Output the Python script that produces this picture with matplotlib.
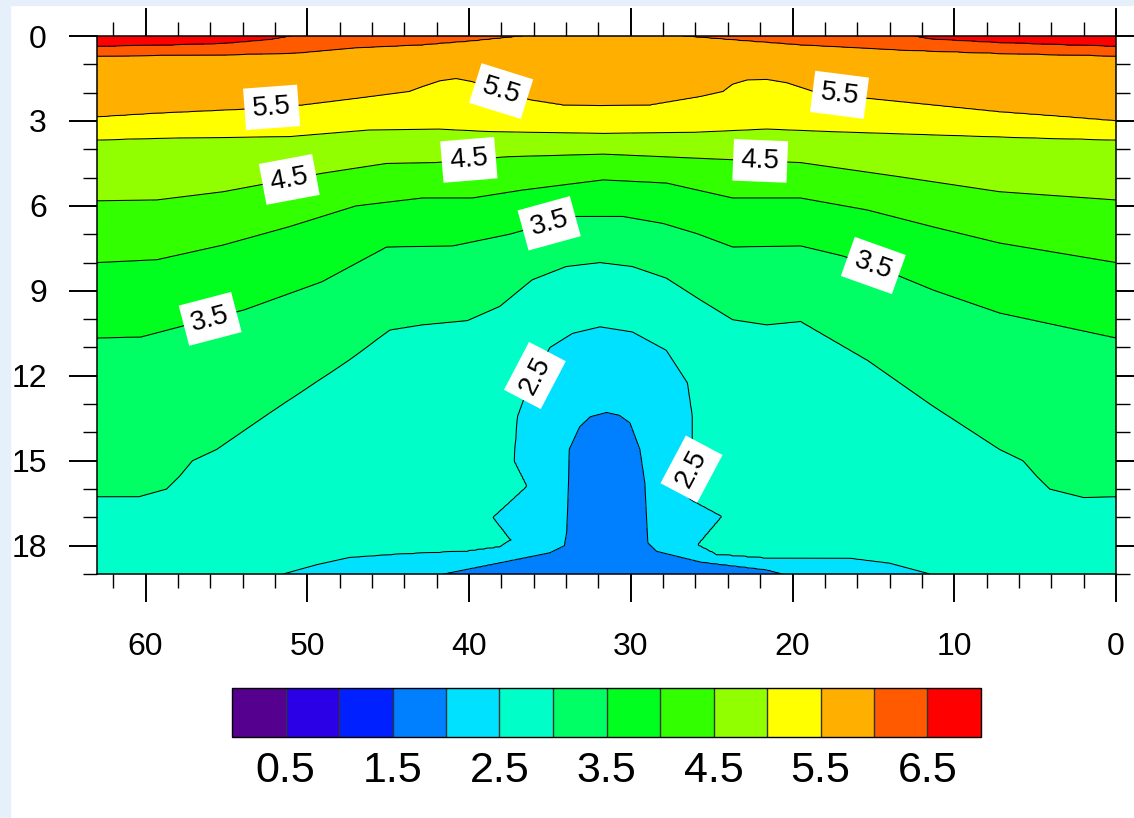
import numpy as np
import matplotlib
matplotlib.use("Agg")
import matplotlib.pyplot as plt
from matplotlib.path import Path
from matplotlib.patches import Rectangle
from matplotlib.ticker import MultipleLocator, FixedLocator

plt.rcParams['font.family'] = ['Liberation Sans', 'DejaVu Sans']

# ---------------- data: contour lines (x, depth) ----------------
c65a_x = [63.0, 59.0, 55.2, 52.3, 51.0]
c65a_d = [0.37, 0.33, 0.27, 0.13, 0.0]
c65b_x = [12.5, 11.5, 7.2, 3.0, 0.0]
c65b_d = [0.0, 0.11, 0.24, 0.32, 0.37]

c60a_x = [63.0, 55.2, 50.7, 47.0, 42.9, 39.8, 36.7]
c60a_d = [0.70, 0.66, 0.60, 0.42, 0.32, 0.18, 0.0]
c60b_x = [26.8, 23.7, 19.5, 13.4, 7.2, 0.0]
c60b_d = [0.0, 0.14, 0.32, 0.49, 0.61, 0.70]

c55_x = [63.0, 59.3, 53.6, 50.3, 46.9, 43.7, 42.9, 41.8, 40.8, 39.8, 38.0, 36.2, 34.2,
         31.9, 28.8, 25.7, 24.3, 23.7, 22.8, 21.6, 20.35, 18.7, 15.4, 11.3, 7.2, 3.0, 0.0]
c55_d = [2.86, 2.73, 2.58, 2.44, 2.20, 1.96, 1.79, 1.58, 1.50, 1.61, 1.95, 2.26, 2.44,
         2.47, 2.44, 2.14, 1.96, 1.70, 1.55, 1.53, 1.65, 1.96, 2.20, 2.44, 2.68, 2.86, 3.0]

c50_x = [63.0, 59.3, 51.1, 46.2, 41.9, 38.7, 31.7, 26.0, 21.6, 17.5, 11.3, 5.0, 0.0]
c50_d = [3.67, 3.61, 3.55, 3.32, 3.29, 3.38, 3.44, 3.40, 3.29, 3.38, 3.49, 3.60, 3.67]

c45_x = [63.0, 59.3, 55.2, 49.1, 45.1, 42.1, 37.6, 31.7, 25.7, 19.5, 13.4, 7.2, 0.0]
c45_d = [5.82, 5.79, 5.50, 4.85, 4.50, 4.47, 4.26, 4.17, 4.32, 4.47, 4.97, 5.50, 5.79]

c40_x = [63.0, 59.3, 55.2, 51.1, 47.0, 42.9, 39.8, 36.7, 31.7, 27.8, 23.7, 19.5, 15.4,
         11.3, 7.2, 0.0]
c40_d = [8.00, 7.90, 7.38, 6.73, 6.00, 5.72, 5.72, 5.44, 5.08, 5.19, 5.72, 5.72, 6.14,
         6.74, 7.31, 8.00]

c35_x = [63.0, 60.3, 53.9, 49.1, 45.1, 41.0, 37.5, 33.5, 30.5, 28.0, 25.9, 23.7, 19.5,
         17.0, 15.0, 11.3, 7.2, 0.0]
c35_d = [10.66, 10.63, 9.67, 8.68, 7.45, 7.41, 7.00, 6.37, 6.37, 6.62, 6.98, 7.45, 7.41,
         7.75, 8.10, 8.97, 9.78, 10.66]

c30_x = [63.0, 60.4, 58.7, 57.9, 57.1, 55.6, 52.3, 47.4, 44.9, 42.9, 40.1, 38.1, 36.1,
         34.0, 31.9, 29.9, 27.8, 25.7, 23.7, 21.6, 19.5, 15.4, 11.5, 7.2, 5.75, 4.9, 4.1,
         2.0, 0.0]
c30_d = [16.27, 16.27, 16.0, 15.55, 15.0, 14.6, 13.3, 11.44, 10.38, 10.2, 10.05, 9.55, 8.61,
         8.14, 8.0, 8.14, 8.55, 9.32, 10.02, 10.2, 10.08, 11.44, 13.0, 14.6, 15.0, 15.55, 16.0,
         16.3, 16.27]

c25_x = [51.5, 49.4, 47.4, 44.3, 40.1, 38.1, 37.4, 38.5, 36.4, 37.2, 37.0, 36.4, 35.0,
         33.6, 31.9, 29.9, 27.8, 26.5, 26.2, 26.2, 26.3, 26.4, 24.4, 25.9, 24.7, 21.6,
         16.45, 14.0, 11.5]
c25_d = [19.0, 18.67, 18.42, 18.3, 18.2, 18.05, 17.8, 17.0, 15.9, 15.0, 13.45, 12.5, 11.0,
         10.5, 10.27, 10.45, 11.1, 12.25, 13.45, 14.5, 15.6, 16.35, 16.97, 17.97, 18.32, 18.45,
         18.45, 18.62, 19.0]

c20_x = [41.6, 38.1, 35.0, 34.1, 33.95, 33.85, 33.8, 33.15, 32.5, 31.5, 30.7, 30.06,
         29.44, 29.13, 28.95, 28.4, 25.7, 21.6, 20.6]
c20_d = [19.0, 18.6, 18.25, 18.0, 17.5, 15.8, 14.6, 13.8, 13.45, 13.3, 13.4, 13.66,
         14.6, 15.8, 17.9, 18.2, 18.57, 18.85, 19.0]

line_levels = [2.0, 2.5, 3.0, 3.5, 4.0, 4.5, 5.0, 5.5, 6.0, 6.5]
label_levels = [2.5, 3.5, 4.5, 5.5]
fill_levels = [-1.0, 0.5, 1.0, 1.5, 2.0, 2.5, 3.0, 3.5, 4.0, 4.5, 5.0, 5.5, 6.0, 6.5, 10.0]
colors = ['#55008f', '#2c00e6', '#0020ff', '#0080ff', '#00e0ff', '#00ffc8', '#00ff64',
          '#00ff1e', '#32ff00', '#91ff00', '#ffff00', '#ffaf00', '#ff5a00', '#ff0000']
cbar_ticks = [0.5, 1.5, 2.5, 3.5, 4.5, 5.5, 6.5]
x_ticks = [0, 10, 20, 30, 40, 50, 60]
y_ticks = [0, 3, 6, 9, 12, 15, 18]

lines = {
    2.0: ('dome', [(c20_x, c20_d)]),
    2.5: ('dome', [(c25_x, c25_d)]),
    3.0: ('top', [(c30_x, c30_d)]),
    3.5: ('top', [(c35_x, c35_d)]),
    4.0: ('top', [(c40_x, c40_d)]),
    4.5: ('top', [(c45_x, c45_d)]),
    5.0: ('top', [(c50_x, c50_d)]),
    5.5: ('top', [(c55_x, c55_d)]),
    6.0: ('top', [(c60a_x, c60a_d), (c60b_x, c60b_d)]),
    6.5: ('top', [(c65a_x, c65a_d), (c65b_x, c65b_d)]),
}

# ---------------- build gridded field whose contours follow the lines ----------------
XMAX, DMAX = 63.0, 19.0
xg = np.linspace(0, XMAX, 631)
dg = np.linspace(0, DMAX, 476)
X, D = np.meshgrid(xg, dg)
P = np.column_stack([X.ravel(), D.ravel()])
SX, SY = 16.17, 28.33
PX, PY = P[:, 0] * SX, P[:, 1] * SY


def extend(xs, ds):
    pts = list(zip(xs, ds))

    def ext(p):
        x, d = p
        if abs(x - XMAX) < 1e-6:
            return (XMAX + 2, d)
        if abs(x) < 1e-6:
            return (-2.0, d)
        if abs(d) < 1e-6:
            return (x, -2.0)
        if abs(d - DMAX) < 1e-6:
            return (x, DMAX + 2)
        return p
    return [ext(pts[0])] + pts + [ext(pts[-1])]


def high_mask(kind, pieces):
    m = np.zeros(len(P), bool)
    for xs, ds in pieces:
        poly = extend(xs, ds)
        if kind == 'top':
            first, last = poly[0], poly[-1]
            if last[0] < 0:
                poly.append((-2.0, -2.0))
            if first[0] > XMAX:
                poly.append((XMAX + 2, -2.0))
        m |= Path(poly).contains_points(P)
    return ~m if kind == 'dome' else m


def dist_to(pieces):
    best = np.full(len(P), np.inf)
    for xs, ds in pieces:
        ax_ = np.asarray(xs) * SX
        ay_ = np.asarray(ds) * SY
        for i in range(len(ax_) - 1):
            x0, y0, x1, y1 = ax_[i], ay_[i], ax_[i + 1], ay_[i + 1]
            dx, dy = x1 - x0, y1 - y0
            L2 = dx * dx + dy * dy
            t = np.clip(((PX - x0) * dx + (PY - y0) * dy) / L2, 0, 1) if L2 > 0 else 0.0
            best = np.minimum(best, np.hypot(PX - (x0 + t * dx), PY - (y0 + t * dy)))
    return best


n = np.zeros(len(P), int)
dist = {}
for L in line_levels:
    kind, pieces = lines[L]
    n += high_mask(kind, pieces).astype(int)
    dist[L] = dist_to(pieces)

Z = np.zeros(len(P))
for k in range(len(line_levels) + 1):
    sel = n == k
    if not sel.any():
        continue
    if k == 0:
        d0 = dist[line_levels[0]][sel]
        Z[sel] = line_levels[0] - 0.5 * d0 / (d0 + 40)
    elif k == len(line_levels):
        d1 = dist[line_levels[-1]][sel]
        Z[sel] = line_levels[-1] + 0.5 * d1 / (d1 + 40)
    else:
        lo, hi = line_levels[k - 1], line_levels[k]
        dlo, dhi = dist[lo][sel], dist[hi][sel]
        Z[sel] = lo + (hi - lo) * dlo / (dlo + dhi + 1e-9)
Z = Z.reshape(X.shape)

# ---------------- figure ----------------
W, H = 1134, 818
fig = plt.figure(figsize=(W / 100, H / 100), dpi=100)
fig.patches.append(Rectangle((0, 0), 10 / W, 1, transform=fig.transFigure,
                             color='#e6f0fa', zorder=0))
fig.patches.append(Rectangle((0, 1 - 5 / H), 1, 5 / H, transform=fig.transFigure,
                             color='#e6f0fa', zorder=0))

ax = fig.add_axes([97 / W, 1 - 574 / H, (1116 - 97) / W, (574 - 36) / H])
cf = ax.contourf(X, D, Z, levels=fill_levels, colors=colors)
plain_levels = [v for v in line_levels if v not in label_levels]
cs = ax.contour(X, D, Z, levels=plain_levels, colors='black', linewidths=0.75)
cs_lab = ax.contour(X, D, Z, levels=label_levels, colors='black', linewidths=0.75)

label_pos = [(52.2, 2.6), (38.1, 2.1), (17.1, 2.1),
             (51.1, 5.1), (40.0, 4.45), (22.0, 4.45),
             (35.0, 6.7), (15.0, 8.1), (56.0, 10.0),
             (36.2, 11.9), (26.1, 15.3)]
label_rot_override = {10: 62.0}
ax.clabel(cs_lab, manual=label_pos, inline=False, fontsize=20, fmt='%.1f',
          colors='black')
for i, t in enumerate(cs_lab.labelTexts):
    t.set_bbox(dict(boxstyle='square,pad=0.28', fc='white', ec='none'))
    t.set_zorder(5)
    if i in label_rot_override:
        t.set_rotation(label_rot_override[i])

ax.set_xlim(XMAX, 0)
ax.set_ylim(DMAX, 0)
ax.xaxis.set_major_locator(FixedLocator(x_ticks))
ax.yaxis.set_major_locator(FixedLocator(y_ticks))
ax.xaxis.set_minor_locator(MultipleLocator(2))
ax.yaxis.set_minor_locator(MultipleLocator(1))
ax.tick_params(which='both', direction='out', top=True, right=True,
               labeltop=False, labelright=False)
ax.tick_params(which='major', length=20, width=1.4, labelsize=23)
ax.tick_params(which='minor', length=10, width=1.0)
ax.tick_params(axis='x', which='major', pad=22)
ax.tick_params(axis='y', which='major', pad=16)
for s in ax.spines.values():
    s.set_linewidth(1.1)

cax = fig.add_axes([232 / W, 1 - 737 / H, (981 - 232) / W, (737 - 688) / H])
cb = fig.colorbar(cf, cax=cax, orientation='horizontal', ticks=cbar_ticks,
                  drawedges=True, spacing='uniform')
cb.ax.tick_params(length=0, labelsize=31, pad=10)
cb.ax.set_xticklabels([f'{v:.1f}' for v in cbar_ticks])
cb.outline.set_linewidth(1.0)
cb.dividers.set_linewidth(1.0)
cb.dividers.set_color('#333333')

fig.savefig('out.png', dpi=100)
